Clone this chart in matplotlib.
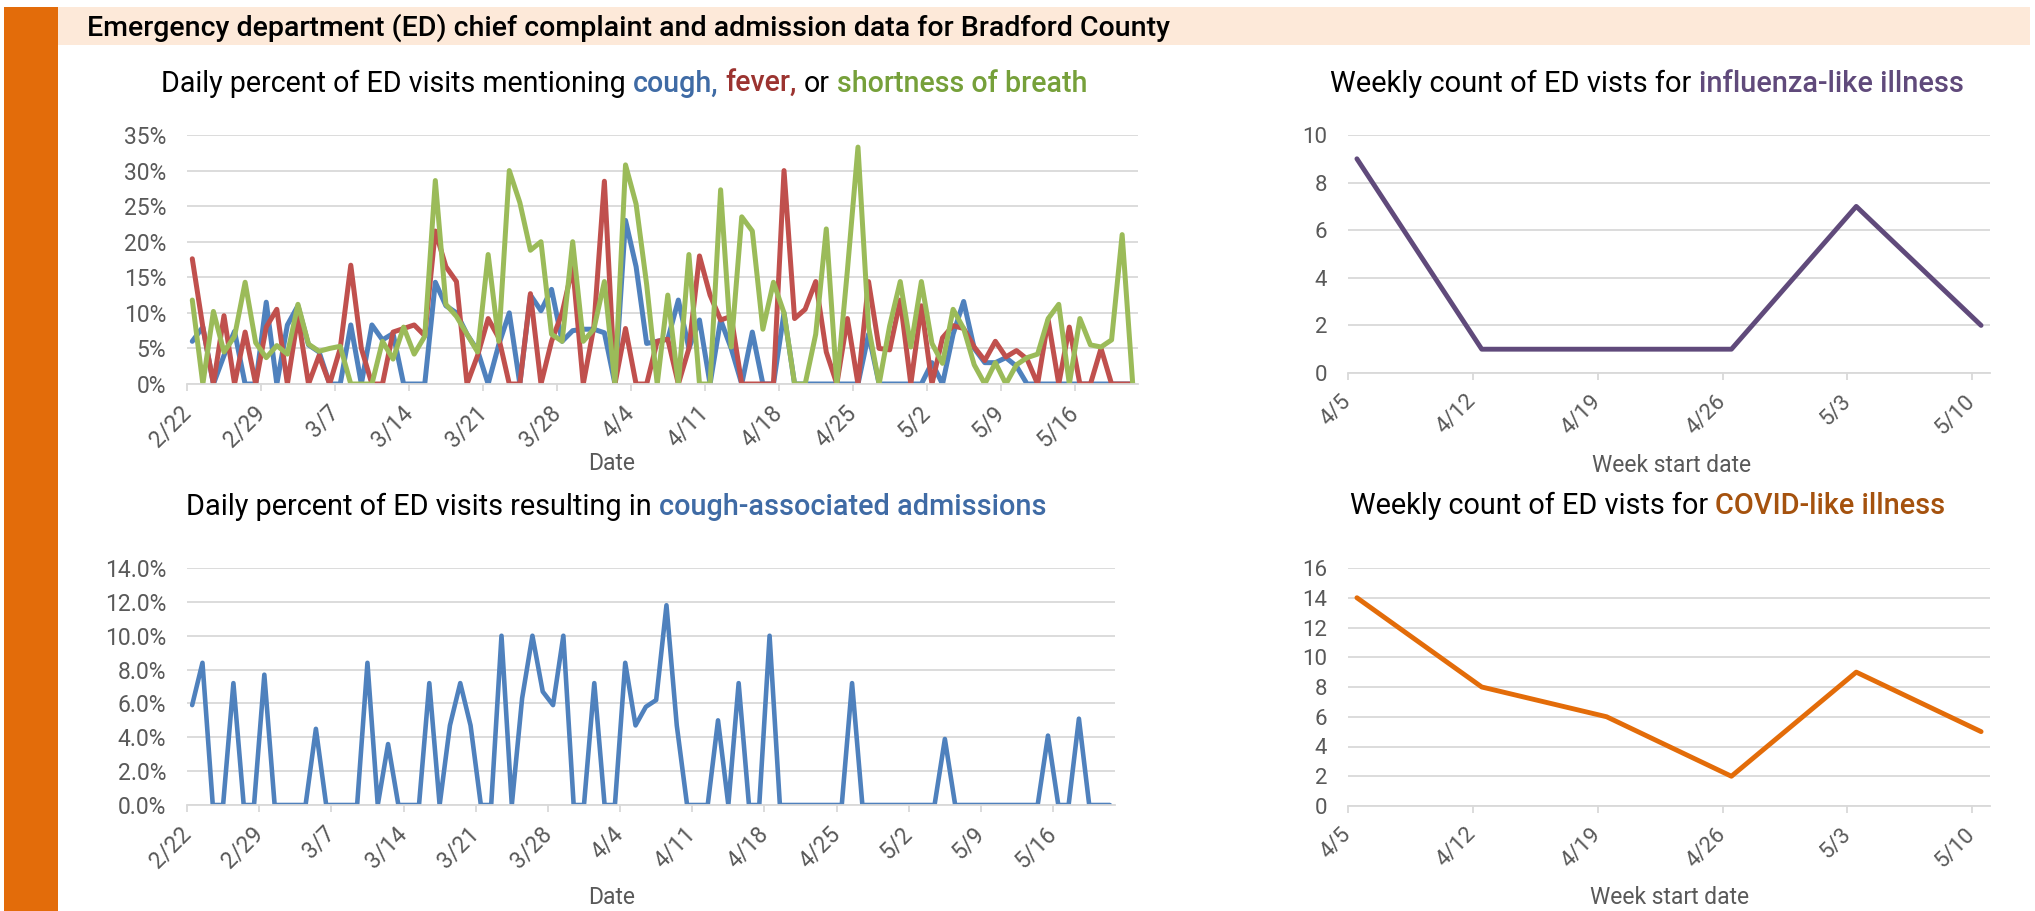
import numpy as np
import matplotlib
matplotlib.use("Agg")
import matplotlib.pyplot as plt
from matplotlib.patches import Rectangle
from matplotlib.transforms import ScaledTranslation

plt.rcParams['font.family'] = ['Roboto', 'DejaVu Sans']

# ---- data ----
day_labels = ['2/22', '2/29', '3/7', '3/14', '3/21', '3/28', '4/4',
              '4/11', '4/18', '4/25', '5/2', '5/9', '5/16']

cough = [6.0, 8.0, 0, 4.0, 7.4, 0, 0, 11.5, 0, 8.3,
         11.0, 5.5, 4.5, 0, 0, 8.3, 0, 8.3, 6.2, 7.1,
         0, 0, 0, 14.3, 11.0, 10.0, 7.0, 4.7, 0, 5.5,
         10.0, 0, 12.5, 10.3, 13.3, 6.0, 7.5, 7.7, 7.7, 7.2,
         0, 23.0, 16.5, 5.7, 6.0, 6.3, 11.8, 5.0, 9.0, 0,
         9.0, 5.0, 0, 7.3, 0, 0, 10.0, 0, 0, 0,
         0, 0, 0, 0, 7.0, 0, 0, 0, 0, 0,
         3.0, 0, 7.0, 11.6, 5.0, 3.0, 3.0, 3.7, 2.5, 0,
         0, 0, 0, 0, 0, 0, 0, 0, 0, 0]

fever = [17.6, 8.0, 0, 9.6, 0, 7.3, 0, 8.0, 10.5, 0,
         9.5, 0, 4.0, 0, 5.0, 16.7, 5.0, 0, 0, 7.3,
         7.8, 8.3, 6.8, 21.5, 16.5, 14.4, 0, 4.0, 9.2, 6.5,
         0, 0, 12.7, 0, 6.0, 10.0, 16.5, 0, 8.0, 28.5,
         0, 7.8, 0, 0, 6.0, 6.3, 0, 5.0, 18.0, 12.5,
         9.0, 9.5, 0, 0, 0, 0, 30.0, 9.2, 10.5, 14.4,
         4.5, 0, 9.2, 0, 14.4, 5.0, 4.8, 11.8, 0, 11.0,
         0, 6.5, 8.2, 7.8, 5.2, 3.3, 6.0, 3.8, 4.7, 3.5,
         0, 9.0, 0, 8.0, 0, 0, 5.0, 0, 0, 0]

sob = [11.8, 0, 10.2, 4.5, 6.7, 14.3, 5.8, 3.7, 5.4, 4.2,
       11.2, 5.6, 4.6, 5.0, 5.3, 0, 0, 0, 6.0, 3.5,
       8.0, 4.2, 6.7, 28.6, 11.2, 9.5, 7.0, 4.5, 18.2, 6.0,
       30.0, 25.5, 18.8, 20.0, 7.0, 6.0, 20.0, 6.0, 7.7, 14.4,
       0, 30.8, 25.3, 14.0, 0, 12.5, 0, 18.2, 0, 0,
       27.3, 5.2, 23.5, 21.5, 7.7, 14.3, 10.0, 0, 0, 7.0,
       21.8, 0, 16.0, 33.3, 8.0, 0, 8.2, 14.4, 5.2, 14.4,
       5.7, 2.9, 10.5, 7.8, 2.7, 0, 3.0, 0, 2.7, 3.7,
       4.2, 9.2, 11.2, 0, 9.2, 5.5, 5.2, 6.2, 21.0, 0]

admit = [5.9, 8.4, 0, 0, 7.2, 0, 0, 7.7, 0, 0,
         0, 0, 4.5, 0, 0, 0, 0, 8.4, 0, 3.6,
         0, 0, 0, 7.2, 0, 4.7, 7.2, 4.7, 0, 0,
         10.0, 0, 6.3, 10.0, 6.7, 5.9, 10.0, 0, 0, 7.2,
         0, 0, 8.4, 4.7, 5.8, 6.2, 11.8, 4.7, 0, 0,
         0, 5.0, 0, 7.2, 0, 0, 10.0, 0, 0, 0,
         0, 0, 0, 0, 7.2, 0, 0, 0, 0, 0,
         0, 0, 0, 3.9, 0, 0, 0, 0, 0, 0,
         0, 0, 0, 4.1, 0, 0, 5.1, 0, 0, 0]

week_labels = ['4/5', '4/12', '4/19', '4/26', '5/3', '5/10']
ili = [9, 1, 1, 1, 7, 2]
cli = [14, 8, 6, 2, 9, 5]

W, H = 2035, 911
fig = plt.figure(figsize=(W / 100, H / 100), dpi=100)
fig.patch.set_facecolor('white')


def box(l, t, r, b):
    return [l / W, 1 - b / H, (r - l) / W, (b - t) / H]


# orange side bar and header band
fig.patches.append(Rectangle((4 / W, 0), 54 / W, 1 - 7 / H, transform=fig.transFigure,
                             facecolor='#E36C0A', edgecolor='none'))
fig.patches.append(Rectangle((58 / W, 1 - 45 / H), (2030 - 58) / W, 38 / H,
                             transform=fig.transFigure, facecolor='#FDE9D9', edgecolor='none'))
fig.text(87 / W, 1 - 36 / H,
         'Emergency department (ED) chief complaint and admission data for Bradford County',
         fontsize=20.5, fontweight='medium', va='baseline', color='black')

renderer = fig.canvas.get_renderer()


def rich(x, y, parts, size):
    # pieces of one title line in different colours, placed one after another
    gap = 0.25 * size * 100 / 72
    for s, c, w in parts:
        t = fig.text(x / W, 1 - y / H, s, color=c, fontsize=size, fontweight=w,
                     va='baseline', ha='left')
        x = t.get_window_extent(renderer).x1 + gap


def style(ax, n, ticks, labels, ylim, ystep, fmt, lab, lsize, dx):
    ax.set_xlim(-0.5, n - 0.5)
    ax.set_ylim(*ylim)
    ax.set_yticks(np.arange(ylim[0], ylim[1] + 0.001, ystep))
    ax.set_yticklabels([fmt.format(v) for v in ax.get_yticks()])
    ax.set_xticks(ticks)
    tl = ax.set_xticklabels(labels, rotation=45, ha='right', va='center',
                            rotation_mode='anchor')
    for t in tl:
        t.set_transform(t.get_transform() + ScaledTranslation(dx / 100, 0, fig.dpi_scale_trans))
    ax.grid(axis='y', color='#D9D9D9', linewidth=1.3)
    ax.set_axisbelow(True)
    for s in ['top', 'right', 'left']:
        ax.spines[s].set_visible(False)
    ax.spines['bottom'].set_color('#D9D9D9')
    ax.spines['bottom'].set_linewidth(1.3)
    ax.tick_params(axis='x', length=5, width=1.3, color='#D9D9D9', pad=13,
                   labelsize=lsize, labelcolor='#595959')
    ax.tick_params(axis='y', length=0, pad=15, labelsize=lsize, labelcolor='#595959')
    ax.set_xlabel(lab, fontsize=16.5, color='#595959')


days = np.arange(len(cough))
day_ticks = np.arange(len(day_labels)) * 7 - 0.5
weeks = np.arange(len(ili)) * 7
week_ticks = weeks - 0.5

# top left: cough / fever / shortness of breath
ax1 = fig.add_axes(box(187, 135, 1138, 384))
ax1.plot(days, cough, color='#4F81BD', lw=3.6, solid_joinstyle='round', solid_capstyle='round')
ax1.plot(days, fever, color='#C0504D', lw=3.6, solid_joinstyle='round', solid_capstyle='round')
ax1.plot(days, sob, color='#9BBB59', lw=3.6, solid_joinstyle='round', solid_capstyle='round')
style(ax1, 90, day_ticks, day_labels, (0, 35), 5, '{:.0f}%', 'Date', 16.5, 5)
ax1.xaxis.set_label_coords((612 - 187) / (1138 - 187), -(463 - 384) / (384 - 135))
ax1.xaxis.label.set_va('center')

# bottom left: cough-associated admissions
ax2 = fig.add_axes(box(187, 568, 1115, 805))
ax2.plot(days, admit, color='#4F81BD', lw=3.3, solid_joinstyle='round', solid_capstyle='round')
style(ax2, 90, day_ticks, day_labels, (0, 14), 2, '{:.1f}%', 'Date', 16.5, 4)
ax2.xaxis.set_label_coords((612 - 187) / (1115 - 187), -(897 - 805) / (805 - 568))
ax2.xaxis.label.set_va('center')

# top right: influenza-like illness
ax3 = fig.add_axes(box(1348, 135, 1990, 373))
ax3.plot(weeks, ili, color='#604A7B', lw=3.5, solid_joinstyle='round', solid_capstyle='round')
style(ax3, 36, week_ticks, week_labels, (0, 10), 2, '{:.0f}', 'Week start date', 16, 5)
ax3.xaxis.set_label_coords((1672 - 1348) / (1990 - 1348), -(465 - 373) / (373 - 135))
ax3.xaxis.label.set_va('center')

# bottom right: COVID-like illness
ax4 = fig.add_axes(box(1348, 568, 1990, 806))
ax4.plot(weeks, cli, color='#E36C09', lw=3.5, solid_joinstyle='round', solid_capstyle='round')
style(ax4, 36, week_ticks, week_labels, (0, 16), 2, '{:.0f}', 'Week start date', 16, 5)
ax4.xaxis.set_label_coords((1670 - 1348) / (1990 - 1348), -(897 - 806) / (806 - 568))
ax4.xaxis.label.set_va('center')

# titles with coloured key words
rich(161, 92, [('Daily percent of ED visits mentioning', 'black', 'normal'),
               ('cough,', '#3F6BA5', 'medium'),
               ('fever,', '#9B3330', 'medium'),
               ('or', 'black', 'normal'),
               ('shortness of breath', '#76A03A', 'medium')], 20.6)
rich(186, 515, [('Daily percent of ED visits resulting in', 'black', 'normal'),
                ('cough-associated admissions', '#3F6BA5', 'medium')], 20.8)
rich(1330, 92, [('Weekly count of ED vists for', 'black', 'normal'),
                ('influenza-like illness', '#604A7B', 'medium')], 20.9)
rich(1350, 514, [('Weekly count of ED vists for', 'black', 'normal'),
                 ('COVID-like illness', '#A5520E', 'medium')], 20.8)

fig.savefig('out.png', dpi=100)
